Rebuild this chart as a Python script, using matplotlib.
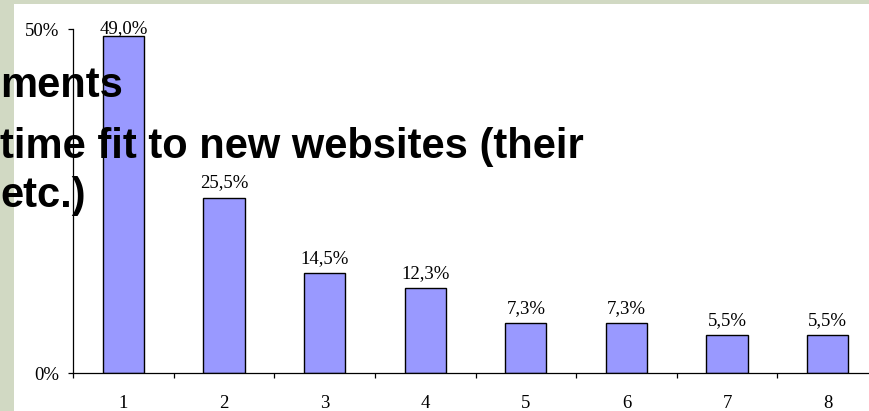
import numpy as np
import matplotlib.pyplot as plt
from matplotlib.patches import Rectangle

categories = [1, 2, 3, 4, 5, 6, 7, 8]
shares = [49.0, 25.5, 14.5, 12.3, 7.3, 7.3, 5.5, 5.5]
bullet_lines = ["ments", "time fit to new websites (their", "etc.)"]

W, H = 869, 411
fig = plt.figure(figsize=(W / 100, H / 100), dpi=100)
fig.patch.set_facecolor('white')

# slide background strips behind the chart
bg = '#D1D9C3'
fig.patches.append(Rectangle((0, 0), 14 / W, 1, transform=fig.transFigure,
                             facecolor=bg, edgecolor='none', zorder=-1))
fig.patches.append(Rectangle((0, 1 - 4 / H), 1, 4 / H, transform=fig.transFigure,
                             facecolor=bg, edgecolor='none', zorder=-1))

# plot area runs a little past the right edge
ax = fig.add_axes([73 / W, 38 / H, 805 / W, 344 / H])
ax.set_facecolor('white')

x = np.array(categories)
vals = np.array(shares) / 100
ax.bar(x, vals, width=0.41, color='#9999FF', edgecolor='black', linewidth=1.0, zorder=2)

ax.set_xlim(0.5, 8.5)
ax.set_ylim(0, 0.5)

serif = 'Liberation Serif'
top = 0.494
for xi, v, s in zip(x, vals, shares):
    y = min(v + 0.0145, top)
    ax.text(xi, y, f"{s:.1f}%".replace('.', ','), ha='center', va='baseline',
            fontsize=13.5, family=serif, zorder=3)

for side in ['top', 'right']:
    ax.spines[side].set_visible(False)
for side in ['left', 'bottom']:
    ax.spines[side].set_linewidth(0.9)

ax.set_yticks([0, 0.5])
ax.set_yticklabels(['0%', '50%'], family=serif, fontsize=13.5)
ax.tick_params(axis='y', direction='out', length=3.6, width=0.9, pad=6)

ax.set_xticks(x)
ax.set_xticklabels([str(c) for c in categories], family=serif, fontsize=13.5)
ax.set_xticks(np.arange(0.5, 9.0, 1.0), minor=True)
ax.tick_params(axis='x', which='major', length=0, pad=16)
ax.tick_params(axis='x', which='minor', direction='out', length=3.6, width=0.9)

# overlapping slide text
for txt, base in zip(bullet_lines, [97, 158, 207]):
    fig.text(0, 1 - base / H, txt, ha='left', va='baseline', fontsize=30,
             fontweight='bold', family='Liberation Sans', color='black', zorder=5)

fig.savefig('out.png', dpi=100)
